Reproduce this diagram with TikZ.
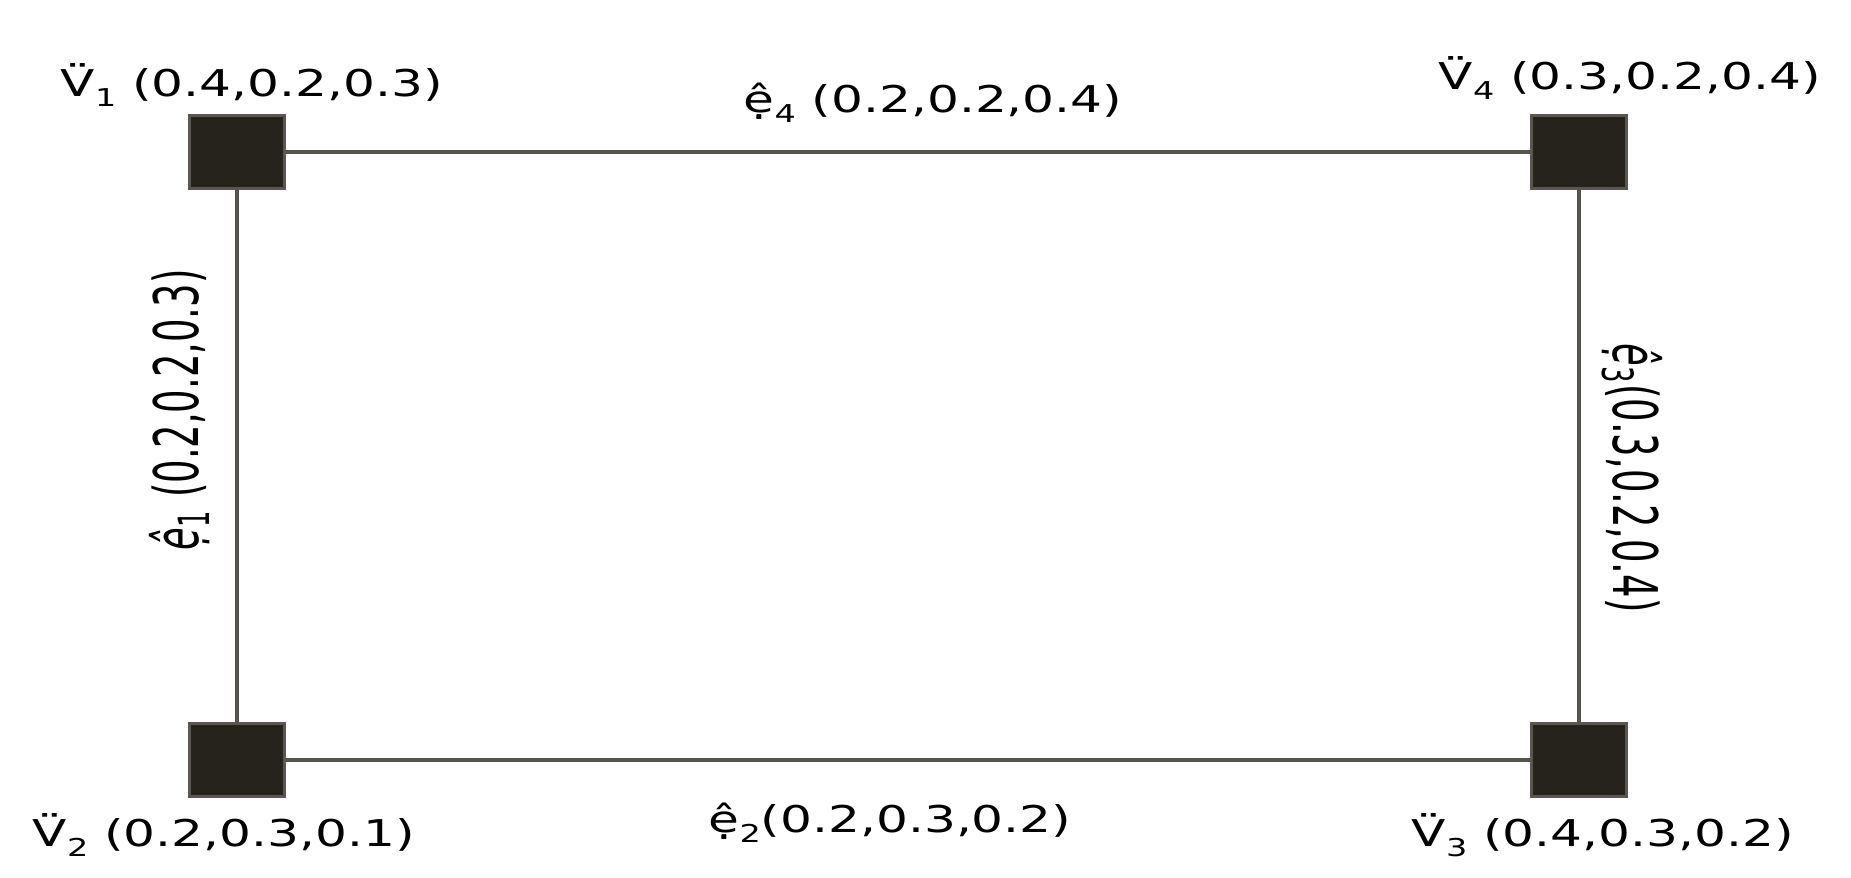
\documentclass[tikz,border=0pt]{standalone}
\usepackage{fontspec}
\setmainfont[FakeStretch=1.36]{DejaVu Sans}
\newfontfamily\tallfont[FakeStretch=0.6]{DejaVu Sans}
\definecolor{edgegray}{RGB}{86,84,79}
\definecolor{boxfill}{RGB}{38,34,28}
\definecolor{boxrim}{RGB}{90,87,82}
\newcommand{\lsub}[1]{\raisebox{-2.8pt}{\fontsize{7}{8}\selectfont #1}}

\begin{document}
\begin{tikzpicture}
  [vertex/.style={rectangle, draw=boxrim, fill=boxfill, line width=0.6pt, inner sep=0pt, minimum width=0.95cm, minimum height=0.73cm},
   hlabel/.style={inner sep=0pt, font=\fontsize{10.5}{12}\selectfont},
   vlabel/.style={inner sep=0pt, font=\tallfont\fontsize{17.5}{20}\selectfont}]
  \useasboundingbox (0,0) rectangle (18.51,8.78);

  \node[vertex] (v1) at (2.37,7.26) {};
  \node[vertex] (v4) at (15.79,7.26) {};
  \node[vertex] (v2) at (2.37,1.18) {};
  \node[vertex] (v3) at (15.79,1.18) {};

  \foreach \from/\to in {v1/v4, v4/v3, v3/v2, v2/v1}
    \draw[edgegray, line width=0.9pt] (\from) edge (\to);

  % vertex labels
  \node[hlabel, anchor=base west] (lv1) at (0.60,7.81) {\"V\lsub{1} (0.4,0.2,0.3)};
  \node[hlabel, anchor=base west] (lv4) at (14.38,7.88) {\"V\lsub{4} (0.3,0.2,0.4)};
  \node[hlabel, anchor=base west] (lv2) at (0.32,0.31) {\"V\lsub{2} (0.2,0.3,0.1)};
  \node[hlabel, anchor=base west] (lv3) at (14.11,0.31) {\"V\lsub{3} (0.4,0.3,0.2)};

  % edge labels
  \node[hlabel, anchor=base west] (le4) at (7.43,7.65) {ệ\lsub{4} (0.2,0.2,0.4)};
  \node[hlabel, anchor=base west] (le2) at (7.08,0.45) {ệ\lsub{2}(0.2,0.3,0.2)};
  \node[vlabel, rotate=90] (le1) at (1.80,4.68) {\textit{ệ}\textsubscript{1} (0.2,0.2,0.3)};
  \node[vlabel, rotate=-90] (le3) at (16.32,4.00) {\textit{ệ}\textsubscript{3}(0.3,0.2,0.4)};
\end{tikzpicture}
\end{document}
